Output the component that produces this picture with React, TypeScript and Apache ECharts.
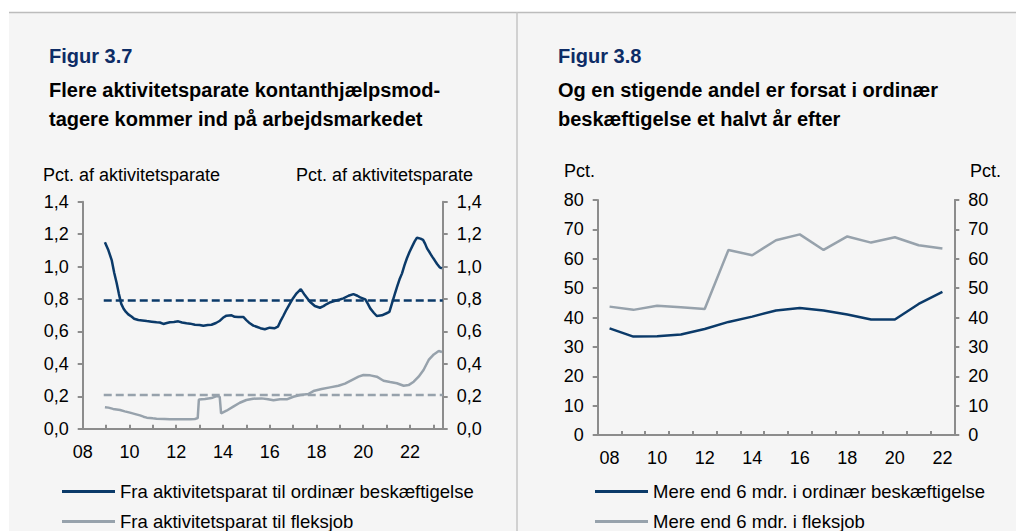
import React, { useEffect, useRef } from "react";
import * as echarts from "echarts";

// ---------- Figur 3.7 (monthly, decimal years) ----------
const ordinaerSeries: [number, number][] = [
  [2008.95, 1.15], [2009.1, 1.1], [2009.24, 1.04], [2009.35, 0.96], [2009.45, 0.9], [2009.55, 0.83],
  [2009.65, 0.77], [2009.75, 0.74], [2009.85, 0.72], [2009.95, 0.705], [2010.1, 0.69], [2010.2, 0.678],
  [2010.38, 0.67], [2010.55, 0.668], [2010.74, 0.664], [2010.95, 0.66], [2011.16, 0.656], [2011.3, 0.655],
  [2011.45, 0.646], [2011.6, 0.652], [2011.73, 0.656], [2011.9, 0.658], [2012.09, 0.662], [2012.25, 0.655],
  [2012.44, 0.65], [2012.6, 0.648], [2012.8, 0.641], [2013.0, 0.64], [2013.16, 0.635], [2013.35, 0.64],
  [2013.51, 0.641], [2013.7, 0.652], [2013.87, 0.666], [2014.0, 0.684], [2014.15, 0.697], [2014.37, 0.699],
  [2014.5, 0.69], [2014.65, 0.689], [2014.87, 0.689], [2015.0, 0.67], [2015.15, 0.65], [2015.3, 0.636],
  [2015.44, 0.629], [2015.6, 0.62], [2015.79, 0.613], [2016.0, 0.623], [2016.2, 0.619], [2016.35, 0.629],
  [2016.45, 0.66], [2016.58, 0.695], [2016.72, 0.735], [2016.87, 0.773], [2017.0, 0.805], [2017.15, 0.835],
  [2017.33, 0.861], [2017.5, 0.824], [2017.72, 0.783], [2017.93, 0.757], [2018.15, 0.746], [2018.3, 0.756],
  [2018.44, 0.769], [2018.6, 0.78], [2018.8, 0.789], [2019.0, 0.797], [2019.15, 0.804], [2019.37, 0.82],
  [2019.58, 0.83], [2019.75, 0.82], [2019.87, 0.81], [2020.09, 0.798], [2020.2, 0.77], [2020.3, 0.742],
  [2020.45, 0.715], [2020.58, 0.695], [2020.8, 0.699], [2021.0, 0.712], [2021.12, 0.72], [2021.23, 0.773],
  [2021.35, 0.83], [2021.45, 0.876], [2021.55, 0.92], [2021.66, 0.958], [2021.77, 1.01], [2021.87, 1.051],
  [2021.98, 1.09], [2022.09, 1.123], [2022.2, 1.155], [2022.3, 1.178], [2022.45, 1.172], [2022.56, 1.164],
  [2022.65, 1.14], [2022.73, 1.112], [2022.85, 1.085], [2022.95, 1.061], [2023.05, 1.04], [2023.16, 1.016],
  [2023.27, 0.995], [2023.37, 0.989],
];

const fleksjobSeries: [number, number][] = [
  [2008.95, 0.132], [2009.1, 0.13], [2009.3, 0.122], [2009.6, 0.115], [2009.8, 0.107], [2010.02, 0.099],
  [2010.25, 0.09], [2010.45, 0.082], [2010.6, 0.074], [2010.74, 0.068], [2011.0, 0.064], [2011.16, 0.062],
  [2011.5, 0.06], [2011.73, 0.058], [2012.0, 0.058], [2012.3, 0.058], [2012.6, 0.059], [2012.8, 0.06],
  [2012.92, 0.065], [2012.97, 0.18], [2013.23, 0.183], [2013.51, 0.189], [2013.73, 0.201], [2013.86, 0.197],
  [2013.92, 0.095], [2014.15, 0.111], [2014.44, 0.136], [2014.72, 0.16], [2015.0, 0.177], [2015.29, 0.185],
  [2015.65, 0.187], [2015.93, 0.182], [2016.16, 0.175], [2016.44, 0.181], [2016.73, 0.181], [2017.01, 0.197],
  [2017.3, 0.208], [2017.65, 0.214], [2017.87, 0.232], [2018.22, 0.245], [2018.58, 0.255], [2018.94, 0.265],
  [2019.22, 0.278], [2019.51, 0.3], [2019.8, 0.321], [2020.01, 0.331], [2020.3, 0.329], [2020.58, 0.321],
  [2020.87, 0.296], [2021.15, 0.288], [2021.44, 0.28], [2021.73, 0.265], [2021.94, 0.269], [2022.16, 0.29],
  [2022.37, 0.321], [2022.58, 0.362], [2022.8, 0.424], [2023.02, 0.458], [2023.23, 0.479], [2023.37, 0.473],
];

const avgOrdinaer = 0.79;
const avgFleksjob = 0.208;
const avgStart = 2008.9;
const leftXMin = 2008;
const leftXMax = 2023.4;

// ---------- Figur 3.8 (annual) ----------
const rightYears = ["08", "09", "10", "11", "12", "13", "14", "15", "16", "17", "18", "19", "20", "21", "22"];
const mereOrdinaer = [36.3, 33.5, 33.6, 34.2, 36.1, 38.5, 40.3, 42.4, 43.2, 42.4, 41.0, 39.3, 39.3, 44.6, 48.7];
const mereFleksjob = [43.7, 42.6, 44.0, 43.5, 42.9, 63.0, 61.2, 66.3, 68.3, 63.0, 67.6, 65.5, 67.3, 64.6, 63.5];

const legendLeft = ["Fra aktivitetsparat til ordinær beskæftigelse", "Fra aktivitetsparat til fleksjob"];
const legendRight = ["Mere end 6 mdr. i ordinær beskæftigelse", "Mere end 6 mdr. i fleksjob"];

const NAVY = "#0b3a69";
const GREY = "#97a2ac";
const AXIS = "#8c8c8c";
const FONT = 'Arial, "Liberation Sans", sans-serif';

const comma = (v: number) => v.toFixed(1).replace(".", ",");

export default function App() {
  const ref = useRef<HTMLDivElement>(null);
  useEffect(() => {
    if (!ref.current) return;
    const chart = echarts.init(ref.current, undefined, { renderer: "svg" });

    const axisLine = { show: true, lineStyle: { color: AXIS, width: 2 } };
    const label = { color: "#000", fontSize: 18, fontFamily: FONT };

    const yBase = (gi: number, pos: "left" | "right", min: number, max: number, interval: number, fmt: (v: number) => string) => ({
      type: "value",
      gridIndex: gi,
      position: pos,
      min,
      max,
      interval,
      axisLine,
      axisTick: { show: true, inside: false, length: 5, lineStyle: { color: AXIS, width: 2 } },
      axisLabel: { ...label, margin: 14, formatter: fmt },
      splitLine: { show: false },
    });

    const titleText = (x: number, y: number, text: string, color: string) => ({
      type: "text",
      x,
      y,
      style: { text, fill: color, font: `bold 20px ${FONT}`, textVerticalAlign: "middle", verticalAlign: "middle" },
    });
    const nameText = (x: number, y: number, text: string) => ({
      type: "text",
      x,
      y,
      style: { text, fill: "#000", font: `18px ${FONT}`, textVerticalAlign: "middle", verticalAlign: "middle" },
    });

    const legendItem = (name: string, left: number, top: number) => ({
      orient: "horizontal",
      left,
      top,
      padding: 0,
      itemWidth: 53,
      itemHeight: 3,
      icon: "rect",
      data: [name],
      textStyle: { color: "#000", fontSize: 18.5, fontFamily: FONT },
    });

    chart.setOption({
      animation: false,
      backgroundColor: "#ffffff",
      graphic: [
        { type: "rect", z: -10, shape: { x: 9, y: 12, width: 1007, height: 519 }, style: { fill: "#f5f5f5" } },
        { type: "line", z: -9, shape: { x1: 9, y1: 12.5, x2: 1016, y2: 12.5 }, style: { stroke: "#bcbcbc", lineWidth: 1.5 } },
        { type: "line", z: -9, shape: { x1: 517, y1: 12, x2: 517, y2: 531 }, style: { stroke: "#c4c4c4", lineWidth: 1.5 } },
        titleText(49, 56, "Figur 3.7", "#0d2c66"),
        titleText(49, 90, "Flere aktivitetsparate kontanthjælpsmod-", "#000"),
        titleText(49, 119, "tagere kommer ind på arbejdsmarkedet", "#000"),
        titleText(558, 56, "Figur 3.8", "#0d2c66"),
        titleText(558, 90, "Og en stigende andel er forsat i ordinær", "#000"),
        titleText(558, 119, "beskæftigelse et halvt år efter", "#000"),
        nameText(43, 175, "Pct. af aktivitetsparate"),
        nameText(296, 175, "Pct. af aktivitetsparate"),
        nameText(564, 171, "Pct."),
        nameText(970, 171, "Pct."),
      ],
      grid: [
        { left: 82.7, top: 201.7, width: 360, height: 227, containLabel: false },
        { left: 597.7, top: 200, width: 356.6, height: 235, containLabel: false },
      ],
      xAxis: [
        {
          type: "value",
          gridIndex: 0,
          min: leftXMin,
          max: leftXMax,
          interval: 1,
          axisLine,
          axisTick: { show: true, inside: true, length: 4, lineStyle: { color: AXIS, width: 2 } },
          axisLabel: {
            ...label,
            margin: 14,
            showMaxLabel: false,
            formatter: (v: number) => {
              const r = Math.round(v);
              if (Math.abs(v - r) > 1e-6 || r % 2 !== 0) return "";
              return String(r).slice(2);
            },
          },
          splitLine: { show: false },
        },
        {
          type: "category",
          gridIndex: 1,
          data: rightYears,
          boundaryGap: true,
          axisLine,
          axisTick: { show: true, inside: true, length: 4, interval: 0, alignWithLabel: false, lineStyle: { color: AXIS, width: 2 } },
          axisLabel: { ...label, margin: 14, interval: 1 },
          splitLine: { show: false },
        },
      ],
      yAxis: [
        yBase(0, "left", 0, 1.4, 0.2, comma),
        yBase(0, "right", 0, 1.4, 0.2, comma),
        yBase(1, "left", 0, 80, 10, (v: number) => String(v)),
        yBase(1, "right", 0, 80, 10, (v: number) => String(v)),
      ],
      legend: [
        legendItem(legendLeft[0], 62, 482),
        legendItem(legendLeft[1], 62, 512),
        legendItem(legendRight[0], 595, 482),
        legendItem(legendRight[1], 595, 512),
      ],
      series: [
        {
          name: "Gns. ordinær",
          type: "line",
          xAxisIndex: 0,
          yAxisIndex: 0,
          symbol: "none",
          data: [[avgStart, avgOrdinaer], [leftXMax, avgOrdinaer]],
          lineStyle: { color: NAVY, width: 2.5, type: [8, 4] },
          itemStyle: { color: NAVY },
          z: 2,
        },
        {
          name: "Gns. fleksjob",
          type: "line",
          xAxisIndex: 0,
          yAxisIndex: 0,
          symbol: "none",
          data: [[avgStart, avgFleksjob], [leftXMax, avgFleksjob]],
          lineStyle: { color: GREY, width: 2.5, type: [8, 4] },
          itemStyle: { color: GREY },
          z: 2,
        },
        {
          name: legendLeft[1],
          type: "line",
          xAxisIndex: 0,
          yAxisIndex: 0,
          symbol: "none",
          data: fleksjobSeries,
          lineStyle: { color: GREY, width: 2.5 },
          itemStyle: { color: GREY },
          z: 3,
        },
        {
          name: legendLeft[0],
          type: "line",
          xAxisIndex: 0,
          yAxisIndex: 0,
          symbol: "none",
          data: ordinaerSeries,
          lineStyle: { color: NAVY, width: 2.5 },
          itemStyle: { color: NAVY },
          z: 4,
        },
        {
          name: legendRight[1],
          type: "line",
          xAxisIndex: 1,
          yAxisIndex: 2,
          symbol: "none",
          data: mereFleksjob,
          lineStyle: { color: GREY, width: 2.5 },
          itemStyle: { color: GREY },
        },
        {
          name: legendRight[0],
          type: "line",
          xAxisIndex: 1,
          yAxisIndex: 2,
          symbol: "none",
          data: mereOrdinaer,
          lineStyle: { color: NAVY, width: 2.5 },
          itemStyle: { color: NAVY },
        },
      ],
    });
    return () => chart.dispose();
  }, []);

  return (
    <div
      ref={ref}
      style={{ position: "absolute", left: 0, top: 0, width: 1016, height: 531 }}
    />
  );
}
